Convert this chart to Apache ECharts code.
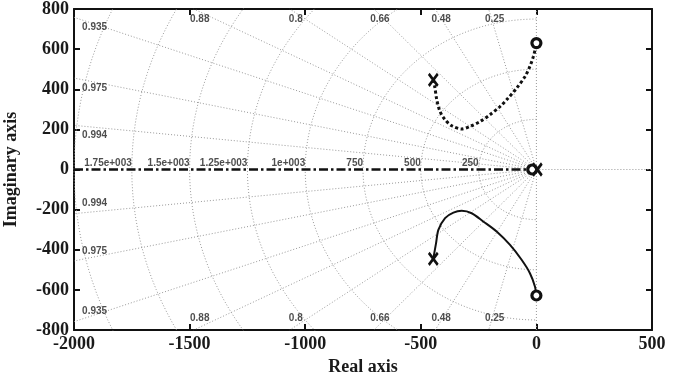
<!DOCTYPE html>
<html>
<head>
<meta charset="utf-8">
<script src="https://cdn.jsdelivr.net/npm/echarts@6/dist/echarts.min.js"></script>
<style>html,body{margin:0;padding:0;background:#fff}#c{width:684px;height:373px}</style>
</head>
<body>
<div id="c"></div>
<script>
// ---- data ----
const xTicks = [-2000, -1500, -1000, -500, 0, 500];
const yTicks = [-800, -600, -400, -200, 0, 200, 400, 600, 800];
const dampingRatios = [0.25, 0.48, 0.66, 0.8, 0.88, 0.935, 0.975, 0.994];
const naturalFreqs = [250, 500, 750, 1000, 1250, 1500, 1750, 2000];
const naturalFreqLabels = ['250', '500', '750', '1e+003', '1.25e+003', '1.5e+003', '1.75e+003'];

// upper branch (dotted), from pole to zero
const upperRe = [-446, -439, -431, -417, -395, -366, -323, -287, -244, -201, -157, -122, -85, -49, -28, -13, -2, 0];
const upperIm = [447, 408, 348, 289, 248, 218, 202, 215, 239, 273, 314, 356, 406, 464, 514, 564, 614, 630];
// lower branch (solid), from pole to zero
const lowerRe = [-446, -434, -424, -395, -359, -323, -280, -230, -172, -114, -64, -28, -6, -2, 0];
const lowerIm = [-445, -367, -301, -242, -215, -206, -218, -259, -309, -376, -450, -517, -584, -617, -628];
// real-axis locus
const realRe = [-2000, 0];
const realIm = [0, 0];
// poles (x) and zeros (o)
const polesRe = [-446, -446, 4];
const polesIm = [447, -445, 0];
const zerosRe = [0, 0, -18];
const zerosIm = [630, -628, 0];

// ---- helpers ----
const zip = (a, b) => a.map((v, i) => [v, b[i]]);
const X0 = -2000, X1 = 500, Y0 = -800, Y1 = 800;
const gridStyle = {color: '#999', width: 1, type: [1, 2]};
const series = [];

// damping-ratio rays
dampingRatios.forEach(z => {
  const s = Math.sqrt(1 - z * z);
  const t = Math.min(Y1 / s, -X0 / z);
  [1, -1].forEach(sg => {
    series.push({type: 'line', silent: true, symbol: 'none', lineStyle: gridStyle, z: 1,
      data: [[0, 0], [-z * t, sg * s * t]]});
  });
});
// zeta = 0 (imaginary axis) and right real axis
series.push({type: 'line', silent: true, symbol: 'none', lineStyle: gridStyle, z: 1, data: [[0, Y0], [0, Y1]]});
series.push({type: 'line', silent: true, symbol: 'none', lineStyle: gridStyle, z: 1, data: [[0, 0], [X1, 0]]});
// natural-frequency semicircles
naturalFreqs.forEach(w => {
  const pts = [];
  for (let k = 0; k <= 90; k++) {
    const a = Math.PI / 2 + Math.PI * k / 90;
    pts.push([w * Math.cos(a), w * Math.sin(a)]);
  }
  series.push({type: 'line', silent: true, symbol: 'none', lineStyle: gridStyle, z: 1, clip: true, data: pts});
});

// grid labels
const lblFont = {fontFamily: 'Liberation Sans', fontWeight: 'bold', fontSize: 10, color: '#222'};
const zLabels = [];
dampingRatios.forEach(z => {
  const s = Math.sqrt(1 - z * z);
  const xi = -Y1 * z / s;
  const txt = String(z);
  if (xi > X0 + 60) {
    zLabels.push({value: [xi, 748], label: Object.assign({formatter: txt, align: 'center', offset: [6, 0]}, lblFont)});
    zLabels.push({value: [xi, -742], label: Object.assign({formatter: txt, align: 'center', offset: [6, 0]}, lblFont)});
  } else {
    const yi = Math.min(-X0 * s / z - 50, 748);
    zLabels.push({value: [-1965, yi], label: Object.assign({formatter: txt, align: 'left'}, lblFont)});
    zLabels.push({value: [-1965, -Math.min(yi, 742)], label: Object.assign({formatter: txt, align: 'left'}, lblFont)});
  }
});
naturalFreqLabels.forEach((t, i) => {
  zLabels.push({value: [-naturalFreqs[i], 0], label: Object.assign({formatter: t, align: 'right', verticalAlign: 'bottom', offset: [0, -1]}, lblFont)});
});
series.push({type: 'scatter', silent: true, symbolSize: 0, z: 3,
  label: {show: true, position: 'inside', verticalAlign: 'middle'}, data: zLabels});

// root locus
series.push({type: 'line', symbol: 'none', z: 5, data: zip(realRe, realIm),
  lineStyle: {color: '#111', width: 2.5, type: [9, 3, 2.5, 3]}});
series.push({type: 'line', symbol: 'none', z: 5, smooth: 0.3, data: zip(upperRe, upperIm),
  lineStyle: {color: '#111', width: 3, type: [3, 2.5], cap: 'butt'}});
series.push({type: 'line', symbol: 'none', z: 5, smooth: 0.3, data: zip(lowerRe, lowerIm),
  lineStyle: {color: '#111', width: 2}});
series.push({type: 'scatter', z: 7, symbol: 'circle', symbolSize: 9, data: zip(zerosRe, zerosIm),
  itemStyle: {color: '#fff', borderColor: '#111', borderWidth: 3.2, opacity: 1}});
series.push({type: 'scatter', z: 8, symbol: 'path://M0,0L10,12M10,0L0,12', symbolSize: [9, 12], data: zip(polesRe, polesIm),
  itemStyle: {color: 'none', borderColor: '#111', borderWidth: 2.8, opacity: 1}});

const axisFont = {fontFamily: 'Liberation Serif', fontWeight: 'bold', fontSize: 18, color: '#1a1a1a'};
const tickLabelX = v => (xTicks.indexOf(v) >= 0 ? String(v) : '');
const tickLabelY = v => (yTicks.indexOf(v) >= 0 ? String(v) : '');
const baseAxis = {
  axisLine: {show: true, onZero: false, lineStyle: {color: '#111', width: 2}},
  axisTick: {show: true, inside: true, length: 6, lineStyle: {color: '#111', width: 2}},
  splitLine: {show: false}
};

const chart = echarts.init(document.getElementById('c'), null, {renderer: 'canvas'});
chart.setOption({
  animation: false,
  backgroundColor: '#fff',
  grid: {left: 74, right: 32, top: 9, bottom: 43, containLabel: false, outerBoundsMode: 'none'},
  xAxis: [
    Object.assign({}, baseAxis, {type: 'value', position: 'bottom', min: X0, max: X1, interval: 500,
      name: 'Real axis', nameLocation: 'middle', nameGap: 27, nameTextStyle: axisFont,
      axisLabel: Object.assign({margin: 5, formatter: tickLabelX, showMinLabel: true, showMaxLabel: true}, axisFont)}),
    Object.assign({}, baseAxis, {type: 'value', position: 'top', min: X0, max: X1, interval: 500,
      axisLabel: {show: false}})
  ],
  yAxis: [
    Object.assign({}, baseAxis, {type: 'value', position: 'left', min: Y0, max: Y1, interval: 200,
      name: 'Imaginary axis', nameLocation: 'middle', nameGap: 54, nameTextStyle: axisFont,
      axisLabel: Object.assign({margin: 5, formatter: tickLabelY, showMinLabel: true, showMaxLabel: true}, axisFont)}),
    Object.assign({}, baseAxis, {type: 'value', position: 'right', min: Y0, max: Y1, interval: 200,
      axisLabel: {show: false}})
  ],
  series: series
});
</script>
</body>
</html>
